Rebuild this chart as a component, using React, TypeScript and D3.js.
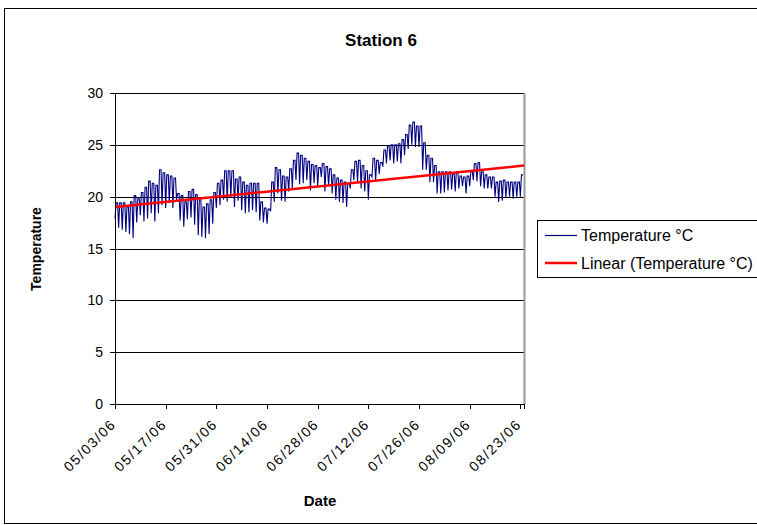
import React, { useEffect } from "react";
import * as d3 from "d3";

const title = "Station 6";
const xTickLabels = ["05/03/06", "05/17/06", "05/31/06", "06/14/06", "06/28/06", "07/12/06", "07/26/06", "08/09/06", "08/23/06"];
const xTickDays = [0, 14, 28, 42, 56, 70, 84, 98, 112];
const yTicks = [0, 5, 10, 15, 20, 25, 30];

// daily highs and lows (°C), one per day starting 05/03/06
const dailyHigh = [
  19.4, 19.4, 19.4, 19.0, 19.5, 20.1, 19.8, 20.4, 20.9, 21.5,
  21.3, 21.1, 22.6, 22.3, 22.1, 22.0, 21.8, 20.3, 20.1, 19.5,
  20.5, 20.7, 20.2, 19.7, 19.0, 19.3, 19.7, 20.4, 21.3, 21.6,
  22.5, 22.5, 22.5, 21.7, 21.9, 21.4, 21.1, 21.3, 21.3, 21.3,
  19.5, 18.9, 18.8, 21.4, 22.8, 22.6, 22.0, 21.9, 22.7, 23.5,
  24.2, 24.0, 23.7, 23.4, 23.1, 23.0, 22.8, 23.2, 22.9, 22.7,
  22.1, 21.8, 21.6, 21.4, 21.3, 22.6, 23.4, 23.5, 23.0, 22.5,
  22.1, 23.7, 23.5, 23.3, 24.5, 24.9, 25.0, 25.0, 25.1, 25.5,
  26.0, 26.9, 27.2, 26.8, 26.8, 25.2, 24.0, 23.7, 23.0, 22.4,
  22.4, 22.4, 22.4, 22.2, 22.4, 22.0, 21.9, 22.0, 22.4, 23.2,
  23.3, 22.4, 22.1, 21.9, 21.9, 21.4, 21.5, 21.6, 21.4, 21.4,
  21.4, 21.4, 22.1,
];
const dailyLow = [
  17.9, 17.0, 16.8, 16.6, 16.4, 16.0, 17.5, 18.2, 17.6, 17.9,
  18.4, 17.6, 18.4, 19.2, 18.9, 19.4, 18.9, 19.7, 17.7, 17.1,
  17.8, 18.0, 17.3, 16.3, 16.1, 16.0, 16.4, 17.4, 18.9, 19.2,
  19.7, 19.5, 19.9, 19.0, 19.6, 18.7, 18.4, 18.5, 18.7, 18.5,
  17.7, 17.5, 17.4, 18.6, 19.5, 20.3, 19.6, 19.5, 20.5, 20.8,
  21.6, 21.2, 21.3, 21.6, 20.6, 21.3, 21.0, 21.9, 20.5, 21.0,
  20.3, 19.7, 19.5, 19.4, 19.0, 20.8, 21.6, 21.4, 20.8, 20.5,
  19.7, 21.9, 21.5, 22.2, 22.9, 23.2, 23.5, 23.2, 23.4, 23.2,
  24.0, 24.6, 25.0, 24.8, 24.8, 22.6, 22.6, 21.4, 21.4, 20.3,
  20.3, 20.4, 20.6, 20.7, 20.5, 20.8, 21.0, 20.3, 21.0, 21.6,
  21.5, 21.0, 20.8, 20.8, 20.8, 20.0, 19.5, 19.6, 19.9, 20.0,
  19.8, 20.0, 20.0,
];

// linear trend (°C) at the first and last day of the axis
const trendDays = [0, 113];
const trendValues = [19.0, 23.0];

const seriesName = "Temperature °C";
const trendName = "Linear (Temperature °C)";

const FONT = "'Liberation Sans', Arial, Helvetica, sans-serif";

export default function App() {
  useEffect(() => {
    document.body.style.margin = "0";
  }, []);

  const W = 757, H = 525;
  const left = 115, right = 524, top = 93, bottom = 404;
  const x = d3.scaleLinear().domain([0, 113]).range([left, right]);
  const y = d3.scaleLinear().domain([0, 30]).range([bottom, top]);

  // readings: early-morning low, afternoon high held for a while
  const pts: [number, number][] = [];
  dailyHigh.forEach((h, i) => {
    pts.push([i, dailyLow[i]]);
    pts.push([i + 0.3, h]);
    pts.push([i + 0.72, h]);
  });
  const line = d3.line<[number, number]>().x((p) => x(p[0])).y((p) => y(p[1]));
  const trend: [number, number][] = trendDays.map((d, i) => [d, trendValues[i]]);

  return (
    <svg width={W} height={H} style={{ position: "absolute", left: 0, top: 0, background: "#fff" }} fontFamily={FONT}>
      <rect x={4.5} y={8.5} width={753} height={515} fill="#fff" stroke="#000" strokeWidth={1} />
      <text x={381} y={46} textAnchor="middle" fontSize={17} fontWeight="bold">{title}</text>

      {yTicks.map((t) => (
        <g key={t}>
          {t > 0 && <line x1={left} x2={right} y1={Math.round(y(t)) + 0.5} y2={Math.round(y(t)) + 0.5} stroke="#000" strokeWidth={1} />}
          <line x1={left - 5} x2={left} y1={Math.round(y(t)) + 0.5} y2={Math.round(y(t)) + 0.5} stroke="#000" />
          <text x={103} y={y(t)} dy="0.36em" textAnchor="end" fontSize={14}>{t}</text>
        </g>
      ))}
      <line x1={right + 0.5} x2={right + 0.5} y1={top} y2={bottom} stroke="#999" strokeWidth={2} />

      <path d={line(pts) || ""} fill="none" stroke="#000080" strokeWidth={1.1} />
      <path d={line(trend) || ""} fill="none" stroke="#ff0000" strokeWidth={2.5} />

      <line x1={left + 0.5} x2={left + 0.5} y1={top} y2={bottom + 0.5} stroke="#000" />
      <line x1={left} x2={right + 1} y1={bottom + 0.5} y2={bottom + 0.5} stroke="#000" />
      {xTickDays.map((d, i) => (
        <g key={d}>
          <line x1={Math.round(x(d)) + 0.5} x2={Math.round(x(d)) + 0.5} y1={bottom} y2={bottom + 5} stroke="#000" />
          <text
            transform={`translate(${x(d) + 2},${bottom + 21}) rotate(-45)`}
            textAnchor="end"
            fontSize={14}
            letterSpacing={1.6}
          >
            {xTickLabels[i]}
          </text>
        </g>
      ))}
      <line x1={Math.round(x(113)) + 0.5} x2={Math.round(x(113)) + 0.5} y1={bottom} y2={bottom + 5} stroke="#000" />

      <text x={320} y={506} textAnchor="middle" fontSize={15} fontWeight="bold">Date</text>
      <text transform={`translate(41,249) rotate(-90)`} textAnchor="middle" fontSize={14} fontWeight="bold">Temperature</text>

      <rect x={537.5} y={220.5} width={222} height={57} fill="#fff" stroke="#000" />
      <line x1={545} x2={577} y1={235.5} y2={235.5} stroke="#000080" strokeWidth={1.2} />
      <text x={581} y={241} fontSize={16}>{seriesName}</text>
      <line x1={545} x2={577} y1={263} y2={263} stroke="#ff0000" strokeWidth={2.5} />
      <text x={581} y={269} fontSize={16}>{trendName}</text>
    </svg>
  );
}
